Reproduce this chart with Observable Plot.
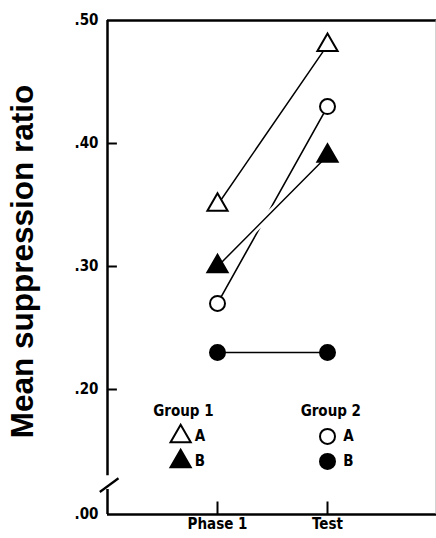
<!DOCTYPE html>
<html>
<head>
<meta charset="utf-8">
<script src="https://cdn.jsdelivr.net/npm/d3@7"></script>
<script src="https://cdn.jsdelivr.net/npm/@observablehq/plot@0.6"></script>
<style>
  html, body { margin: 0; padding: 0; background: #fff; }
  svg { display: block; }
</style>
</head>
<body>
<script>
// ---- data ----
const phases = ["Phase 1", "Test"];
const group1A = [0.35, 0.48];   // open triangle
const group1B = [0.30, 0.39];   // filled triangle
const group2A = [0.27, 0.43];   // open circle
const group2B = [0.23, 0.23];   // filled circle
const yTickValues = [0, 0.2, 0.3, 0.4, 0.5];
const legendGroups = ["Group 1", "Group 2"];
const legendLabels = ["A", "B"];

// ---- build table ----
const seriesValues = {g1A: group1A, g1B: group1B, g2A: group2A, g2B: group2B};
const rows = [];
for (const [key, vals] of Object.entries(seriesValues)) {
  vals.forEach((v, i) => rows.push({series: key, phase: i + 1, value: v}));
}
const sel = (k) => rows.filter(d => d.series === k);

// ---- styles / layout ----
const markerStyle = {
  g1A: {symbol: "triangle", fill: "white"},
  g1B: {symbol: "triangle", fill: "black"},
  g2A: {symbol: "circle", fill: "white"},
  g2B: {symbol: "circle", fill: "black"}
};
const legendKeys = [["g1A", "g1B"], ["g2A", "g2B"]];
const legendX = [0.69, 2.03];       // group header centres (x units)
const legendSymX = [0.665, 2.0];
const legendLabX = [0.84, 2.19];
const legendHeadY = 0.166;
const legendRowY = [0.125, 0.085];
const brkHi = 0.062, brkLo = 0.040;
const condensed = "'Liberation Sans Narrow', 'DejaVu Sans Condensed', 'Arial Narrow', sans-serif";

const legendHead = legendGroups.map((g, i) => ({text: g, x: legendX[i], y: legendHeadY}));
const legendItems = [];
legendKeys.forEach((keys, gi) => keys.forEach((k, ri) => legendItems.push({
  key: k, label: legendLabels[ri], sx: legendSymX[gi], lx: legendLabX[gi], y: legendRowY[ri]
})));

const marks = [
  // frame
  Plot.ruleY([0.5], {x1: 0, x2: 3, strokeWidth: 2.5}),
  Plot.ruleY([0], {x1: 0, x2: 3, strokeWidth: 2.5}),
  Plot.ruleX([2.985], {y1: 0, y2: 0.5, stroke: "#aaa", strokeWidth: 0.8}),
  Plot.ruleX([0], {y1: 0.5, y2: brkHi, strokeWidth: 2.5}),
  Plot.ruleX([0], {y1: brkLo, y2: 0, strokeWidth: 2.5}),
  Plot.link([0], {x1: -0.07, y1: brkLo - 0.004, x2: 0.1, y2: brkHi - 0.004, strokeWidth: 2.2}),
  // ticks
  Plot.ruleY([0.2, 0.3, 0.4], {x1: 0, x2: 0.09, strokeWidth: 2}),
  Plot.ruleX([1, 2], {y1: 0, y2: 0.02, strokeWidth: 2}),
  // y title
  Plot.text(["Mean suppression ratio"], {
    frameAnchor: "left", textAnchor: "middle", rotate: -90, dx: -85, dy: -6,
    fontSize: 31.5, fontWeight: "bold", fontFamily: "'Liberation Sans', Arial, sans-serif"
  }),
  // lines
  Plot.line(sel("g1A"), {x: "phase", y: "value", stroke: "black", strokeWidth: 1.5}),
  Plot.line(sel("g2A"), {x: "phase", y: "value", stroke: "black", strokeWidth: 1.6}),
  Plot.line(sel("g2B"), {x: "phase", y: "value", stroke: "black", strokeWidth: 1.5}),
  Plot.line(sel("g1B"), {x: "phase", y: "value", stroke: "white", strokeWidth: 7}),
  Plot.line(sel("g1B"), {x: "phase", y: "value", stroke: "black", strokeWidth: 1.5}),
  // markers
  ...Object.keys(markerStyle).map(k => Plot.dot(sel(k), {
    x: "phase", y: "value", r: 7.5, symbol: markerStyle[k].symbol,
    fill: markerStyle[k].fill, stroke: "black", strokeWidth: 2
  })),
  // legend
  Plot.text(legendHead, {x: "x", y: "y", text: "text", fontSize: 15, fontWeight: "bold"}),
  ...legendItems.map(d => Plot.dot([d], {
    x: "sx", y: "y", r: 7.5, symbol: markerStyle[d.key].symbol,
    fill: markerStyle[d.key].fill, stroke: "black", strokeWidth: 2
  })),
  Plot.text(legendItems, {x: "lx", y: "y", text: "label", fontSize: 15, fontWeight: "bold"})
];

const chart = Plot.plot({
  width: 436,
  height: 538,
  marginLeft: 107,
  marginRight: 0,
  marginTop: 20,
  marginBottom: 24,
  style: {fontFamily: condensed, fontWeight: "bold", fontSize: "15px", background: "white", color: "black"},
  x: {type: "linear", domain: [0, 3], range: [107, 437], ticks: [1, 2],
      tickFormat: i => phases[i - 1], tickSize: 0, tickPadding: 4, label: null},
  y: {type: "linear", domain: [0, 0.2, 0.5], range: [514, 389, 20], ticks: yTickValues,
      tickFormat: d => d.toFixed(2).replace(/^0/, ""), tickSize: 0, tickPadding: 9, label: null},
  marks
});
document.body.appendChild(chart);
</script>
</body>
</html>
